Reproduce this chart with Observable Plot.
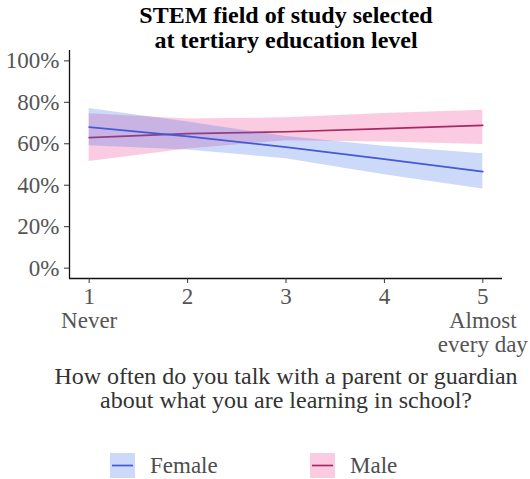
<!DOCTYPE html>
<html>
<head>
<meta charset="utf-8">
<script src="https://cdn.jsdelivr.net/npm/d3@7"></script>
<script src="https://cdn.jsdelivr.net/npm/@observablehq/plot@0.6"></script>
<style>
  html, body { margin: 0; padding: 0; background: #fff; }
  #wrap { position: relative; width: 530px; height: 479px; font-family: "Liberation Serif", "DejaVu Serif", serif; }
  #legend { position: absolute; left: 0; top: 430px; width: 530px; height: 49px; }
  .key { position: absolute; top: 23px; width: 25px; height: 25px; }
  .lab { position: absolute; top: 23px; font-size: 23px; color: #4d4d4d; line-height: 25px; }
</style>
</head>
<body>
<div id="wrap"><div id="chart"></div><div id="legend"></div></div>
<script>
const titleText = "STEM field of study selected\nat tertiary education level";
const xTitle = "How often do you talk with a parent or guardian\nabout what you are learning in school?";
const xTicks = [1, 2, 3, 4, 5];
const xTickLabels = ["1\nNever", "2", "3", "4", "5\nAlmost\nevery day"];
const yTicks = [0, 20, 40, 60, 80, 100];
const genders = ["Female", "Male"];
const lineColors = ["#4458d8", "#a82862"];
const bandColors = ["#4a78e8", "#f06aaa"];
const bandOpacity = [0.28, 0.35];

const femaleFit = [68, 63.6, 58.4, 52.6, 46.6];
const femaleLo = [59, 57, 52.8, 45, 38.2];
const femaleHi = [77, 70.5, 63.5, 58.8, 55.2];
const maleFit = [63, 64.9, 65.8, 67.3, 68.9];
const maleLo = [51.5, 57.5, 61.5, 60.8, 59.7];
const maleHi = [74.5, 72, 72.5, 74.6, 76.2];

const rows = [];
xTicks.forEach((x, i) => {
  rows.push({x, gender: "Female", fit: femaleFit[i], lo: femaleLo[i], hi: femaleHi[i]});
  rows.push({x, gender: "Male", fit: maleFit[i], lo: maleLo[i], hi: maleHi[i]});
});
const maleRows = rows.filter(d => d.gender === "Male");
const femaleRows = rows.filter(d => d.gender === "Female");

const font = "Liberation Serif";
const plot = Plot.plot({
  width: 530,
  height: 430,
  marginTop: 50,
  marginLeft: 69,
  marginRight: 28,
  marginBottom: 152,
  style: {fontFamily: font, background: "white"},
  x: {domain: [0.8, 5.2]},
  y: {domain: [-5, 105]},
  marks: [
    Plot.areaY(maleRows, {x: "x", y1: "lo", y2: "hi", fill: bandColors[1], fillOpacity: bandOpacity[1]}),
    Plot.line(maleRows, {x: "x", y: "fit", stroke: lineColors[1], strokeWidth: 1.7}),
    Plot.areaY(femaleRows, {x: "x", y1: "lo", y2: "hi", fill: bandColors[0], fillOpacity: bandOpacity[0]}),
    Plot.line(femaleRows, {x: "x", y: "fit", stroke: lineColors[0], strokeWidth: 1.7}),
    Plot.ruleX([0.8], {stroke: "#111", strokeWidth: 1.3}),
    Plot.ruleY([-5], {stroke: "#111", strokeWidth: 1.3}),
    Plot.axisY({ticks: yTicks, tickFormat: d => d + "%", tickSize: 5, tickPadding: 5, fontSize: 23, fill: "#555", stroke: "#333", label: null}),
    Plot.axisX({ticks: xTicks, tickFormat: d => xTickLabels[xTicks.indexOf(d)], tickSize: 5, tickPadding: 3, fontSize: 23, lineHeight: 1.05, fill: "#555", stroke: "#333", label: null}),
    Plot.text([titleText], {frameAnchor: "top", dy: -23, lineAnchor: "middle", text: d => d, fontSize: 24, fontWeight: "bold", fill: "#000", lineHeight: 1.04}),
    Plot.text([xTitle], {frameAnchor: "bottom", dy: 110, lineAnchor: "middle", text: d => d, fontSize: 24, fill: "#333", lineHeight: 1.0})
  ]
});
document.getElementById("chart").appendChild(plot);

const legend = document.getElementById("legend");
const keyX = [110, 310];
const labX = [150, 350];
genders.forEach((g, i) => {
  const k = document.createElement("div");
  k.className = "key";
  k.style.left = keyX[i] + "px";
  k.innerHTML = `<svg width="25" height="25"><rect width="25" height="25" fill="${bandColors[i]}" fill-opacity="${bandOpacity[i]}"/><line x1="2" x2="23" y1="12.5" y2="12.5" stroke="${lineColors[i]}" stroke-width="1.7"/></svg>`;
  legend.appendChild(k);
  const l = document.createElement("div");
  l.className = "lab";
  l.style.left = labX[i] + "px";
  l.textContent = g;
  legend.appendChild(l);
});
</script>
</body>
</html>
